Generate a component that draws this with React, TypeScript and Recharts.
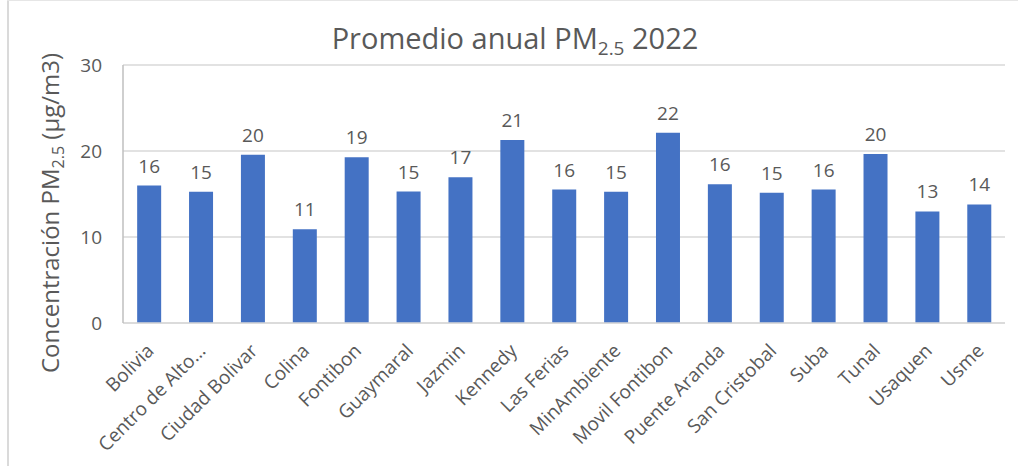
import { Bar, BarChart, CartesianGrid, LabelList, XAxis, YAxis } from "recharts";

const stations = [
  "Bolivia",
  "Centro de Alto Rendimiento",
  "Ciudad Bolivar",
  "Colina",
  "Fontibon",
  "Guaymaral",
  "Jazmin",
  "Kennedy",
  "Las Ferias",
  "MinAmbiente",
  "Movil Fontibon",
  "Puente Aranda",
  "San Cristobal",
  "Suba",
  "Tunal",
  "Usaquen",
  "Usme",
];

const pm25 = [15.98, 15.27, 19.55, 10.89, 19.27, 15.28, 16.95, 21.28, 15.52, 15.27, 22.13, 16.13, 15.15, 15.52, 19.65, 12.97, 13.78];

const yTicks = [0, 10, 20, 30];

const data = stations.map((station, i) => ({ station, pm25: pm25[i] }));

const grey = "#595959";
const font = "'Open Sans', 'Noto Sans', sans-serif";

function StationTick(props: any) {
  const { x, y, payload } = props;
  const name: string = payload.value;
  const label = name.length > 15 ? name.slice(0, 14) + "…" : name;
  return (
    <g transform={`translate(${x + 6},${y + 27})`}>
      <text x={0} y={0} textAnchor="end" transform="rotate(-45)" fill={grey} fontSize={19} fontFamily={font}>
        {label}
      </text>
    </g>
  );
}

export default function App() {
  return (
    <div style={{ position: "absolute", left: 0, top: 0, width: 1018, height: 466, background: "#fff", fontFamily: font }}>
      <div style={{ position: "absolute", left: 7, top: 0, width: 2, height: 466, background: "#DADADA" }} />
      <div style={{ position: "absolute", left: 7, top: 0, width: 1011, height: 1, background: "#E6E6E6" }} />
      <div
        style={{
          position: "absolute",
          left: 0,
          width: 1030,
          top: 18,
          textAlign: "center",
          fontSize: 29,
          color: grey,
          lineHeight: "40px",
          whiteSpace: "nowrap",
        }}
      >
        Promedio anual PM<sub style={{ fontSize: 19, verticalAlign: "-6px", lineHeight: 0 }}>2.5</sub> 2022
      </div>
      <div
        style={{
          position: "absolute",
          left: 50,
          top: 213,
          transform: "translate(-50%, -50%) rotate(-90deg)",
          whiteSpace: "nowrap",
          fontSize: 24,
          color: grey,
          lineHeight: "32px",
        }}
      >
        Concentración PM<sub style={{ fontSize: 16, verticalAlign: "-5px", lineHeight: 0 }}>2.5</sub> (µg/m3)
      </div>
      <BarChart
        width={1018}
        height={466}
        data={data}
        margin={{ top: 65, right: 13, bottom: 43, left: 63 }}
        barCategoryGap="27.3%"
      >
        <CartesianGrid vertical={false} stroke="#D9D9D9" strokeWidth={1.5} />
        <XAxis
          dataKey="station"
          interval={0}
          height={100}
          tickLine={false}
          tickSize={0}
          axisLine={{ stroke: "#D9D9D9", strokeWidth: 1.5 }}
          tick={<StationTick />}
        />
        <YAxis
          domain={[0, 30]}
          ticks={yTicks}
          width={60}
          tickLine={false}
          tickSize={0}
          tickMargin={21}
          axisLine={{ stroke: "#BFBFBF", strokeWidth: 1.5 }}
          tick={{ fill: grey, fontSize: 19, fontFamily: font }}
        />
        <YAxis
          yAxisId="frame"
          orientation="right"
          width={0}
          tick={false}
          tickLine={false}
          axisLine={{ stroke: "#BFBFBF", strokeWidth: 1.5 }}
        />
        <Bar dataKey="pm25" fill="#4472C4" isAnimationActive={false}>
          <LabelList
            dataKey="pm25"
            position="top"
            offset={13}
            formatter={(v: any) => Math.round(Number(v))}
            fill={grey}
            fontSize={19}
            fontFamily={font}
          />
        </Bar>
      </BarChart>
    </div>
  );
}
